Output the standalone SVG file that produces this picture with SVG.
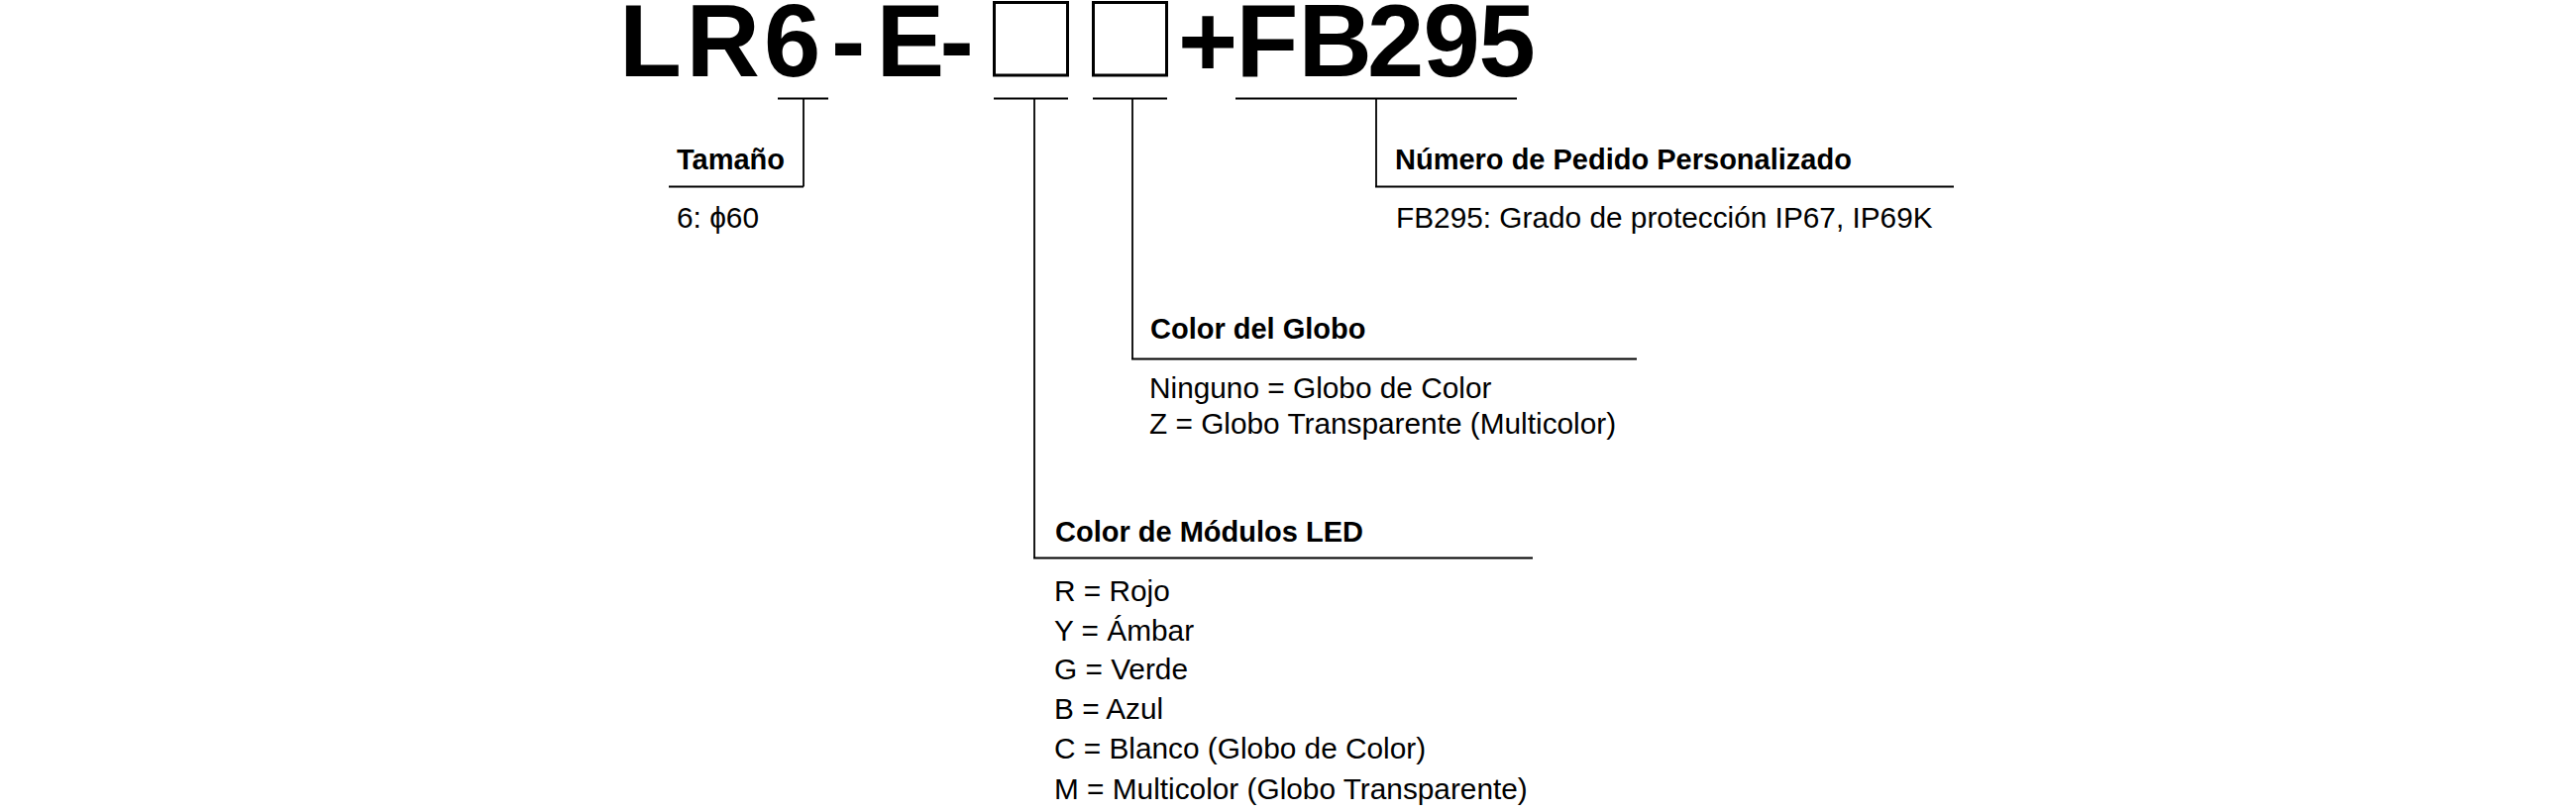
<svg xmlns="http://www.w3.org/2000/svg" width="2600" height="820" viewBox="0 0 2600 820">
<style>
.code{font-family:"Liberation Sans",Arial,Helvetica,sans-serif;font-weight:bold;font-size:103px;fill:#000}
.hd{font-family:"Liberation Sans",Arial,Helvetica,sans-serif;font-weight:bold;font-size:29px;fill:#000}
.tx{font-family:"Liberation Sans",Arial,Helvetica,"DejaVu Sans",sans-serif;font-size:29.8px;fill:#000}
.box{fill:#fff;stroke:#000;stroke-width:3}
.ln{fill:none;stroke:#000;stroke-width:1.8}
</style>
<rect width="2600" height="820" fill="#fff"/>
<g id="code">
<text class="code" x="625 692.5 771 839 884.5 948.5" y="77">LR6-E-</text>
<rect class="box" x="1003.5" y="2.5" width="74" height="73.5"/>
<rect class="box" x="1103.5" y="2.5" width="74" height="73.5"/>
<text class="code" x="1189 1247.5 1310.5 1380 1436.5 1492.5" y="77">+FB295</text>
</g>
<g id="connectors">
<path class="ln" d="M785 99.5H836 M811 99.5V188.5 M675 188.5H811"/>
<path class="ln" d="M1003 99.5H1078 M1044 99.5V563.5 M1043 563.5H1547"/>
<path class="ln" d="M1103 99.5H1178 M1143 99.5V362.5 M1142 362.5H1652"/>
<path class="ln" d="M1247 99.5H1531 M1389 99.5V188.5 M1388 188.5H1972"/>
</g>
<g id="size">
<text class="hd" x="683" y="171">Tamaño</text>
<text class="tx" x="683" y="230">6: ϕ60</text>
</g>
<g id="order">
<text class="hd" x="1408" y="171">Número de Pedido Personalizado</text>
<text class="tx" x="1409" y="230">FB295: Grado de protección IP67, IP69K</text>
</g>
<g id="globe">
<text class="hd" x="1161" y="342">Color del Globo</text>
<text class="tx" x="1160" y="402">Ninguno = Globo de Color</text>
<text class="tx" x="1160" y="438">Z = Globo Transparente (Multicolor)</text>
</g>
<g id="led">
<text class="hd" x="1065" y="547">Color de Módulos LED</text>
<text class="tx" x="1064" y="607">R = Rojo</text>
<text class="tx" x="1064" y="647">Y = Ámbar</text>
<text class="tx" x="1064" y="686">G = Verde</text>
<text class="tx" x="1064" y="726">B = Azul</text>
<text class="tx" x="1064" y="766">C = Blanco (Globo de Color)</text>
<text class="tx" x="1064" y="807">M = Multicolor (Globo Transparente)</text>
</g>
</svg>
